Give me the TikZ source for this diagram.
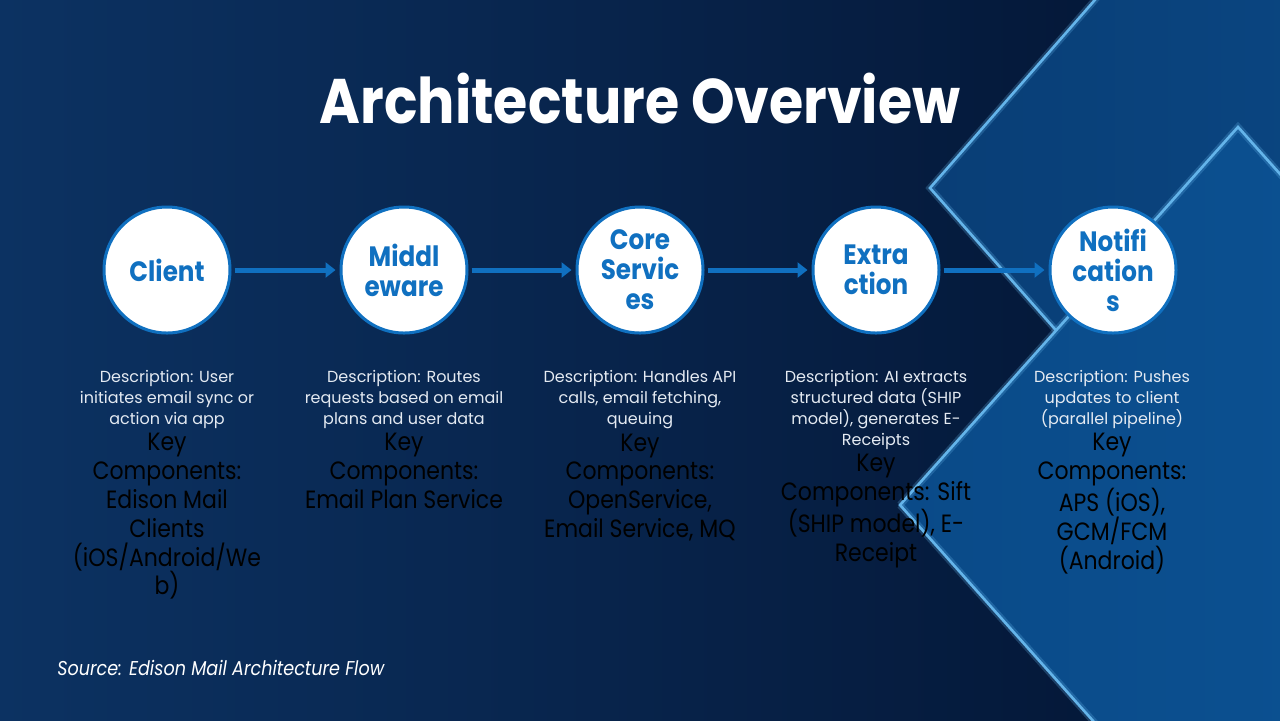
\documentclass[tikz,border=0pt]{standalone}
\usepackage{fontspec}
\setmainfont{Poppins}
\newfontfamily\narrowfont{Poppins}[FakeStretch=0.88]
\usetikzlibrary{positioning,arrows.meta}
\definecolor{bgleft}{RGB}{12,50,98}
\definecolor{bgmid}{RGB}{9,42,88}
\definecolor{bgright}{RGB}{3,20,50}
\definecolor{panelA}{RGB}{9,62,118}
\definecolor{panelB}{RGB}{11,76,138}
\definecolor{panelC}{RGB}{10,74,136}
\definecolor{panelD}{RGB}{12,84,150}
\definecolor{rimblue}{RGB}{100,180,234}
\definecolor{stageblue}{RGB}{16,112,192}
\definecolor{desctext}{RGB}{228,234,242}
\tikzset{
 stage/.style={circle,fill=white,draw=stageblue,line width=1.5pt,minimum size=63pt,inner sep=0pt,align=center,text=stageblue,font=\narrowfont\fontsize{14}{15}\selectfont\bfseries},
 desc/.style={align=center,text=desctext,inner sep=0pt,font=\fontsize{8}{10.5}\selectfont},
 keycomp/.style={align=center,text=black,inner sep=0pt,font=\narrowfont\fontsize{12.5}{14.4}\selectfont},
 flow/.style={draw=stageblue,line width=2.5pt,-{Triangle[length=5pt,width=7.5pt]},shorten <=1.5pt,shorten >=2pt},
 rim/.style={draw=rimblue,line width=1.3pt,line join=miter},
 rimglow/.style={draw=rimblue,line width=3.5pt,opacity=0.25}
}
\begin{document}
\begin{tikzpicture}[x=0.5pt,y=-0.5pt]
 \useasboundingbox (0,0) rectangle (1280,720);
 \clip (0,0) rectangle (1280,720);
 \shade[left color=bgleft,middle color=bgmid,right color=bgright] (0,0) rectangle (1280,720);
 \shade[left color=panelA,right color=panelB] (930,188)--(1300,-234)--(1670,188)--(1300,606)--cycle;
 \draw[rimglow] (1300,-234)--(930,188)--(1300,606);
 \draw[rim] (1300,-234)--(930,188)--(1300,606);
 \shade[left color=panelC,right color=panelD] (1238,127)--(900,505)--(1238,883)--(1576,505)--cycle;
 \draw[rimglow] (900,505)--(1238,127)--(1576,505);
 \draw[rimglow] (900,505)--(1238,883);
 \draw[rim] (1238,883)--(900,505)--(1238,127)--(1576,505);

 \node[text=white,font=\narrowfont\fontsize{31.5}{36}\selectfont\bfseries] (title) at (640,99) {Architecture Overview};

 \node[stage] (client) at (167,270) {Client};
 \node[stage] (middleware) at (404,270) {Middl\\eware};
 \node[stage] (core) at (640,270) {Core\\Servic\\es};
 \node[stage] (extraction) at (876,270) {Extra\\ction};
 \node[stage] (notif) at (1113,270) {Notifi\\cation\\s};

 \draw[flow] (client) -- (middleware);
 \draw[flow] (middleware) -- (core);
 \draw[flow] (core) -- (extraction);
 \draw[flow] (extraction) -- (notif);

 \node[desc,anchor=north] (clientdesc) at (167,370) {Description: User\\initiates email sync or\\action via app};
 \node[desc,anchor=north] (middlewaredesc) at (404,370) {Description: Routes\\requests based on email\\plans and user data};
 \node[desc,anchor=north] (coredesc) at (640,370) {Description: Handles API\\calls, email fetching,\\queuing};
 \node[desc,anchor=north] (extractiondesc) at (876,370) {Description: AI extracts\\structured data (SHIP\\model), generates E-\\Receipts};
 \node[desc,anchor=north] (notifdesc) at (1112,370) {Description: Pushes\\updates to client\\(parallel pipeline)};

 \node[keycomp,below=2pt of clientdesc] (clientkey) {Key\\Components:\\Edison Mail\\Clients\\(iOS/Android/We\\b)};
 \node[keycomp,below=2pt of middlewaredesc] (middlewarekey) {Key\\Components:\\Email Plan Service};
 \node[keycomp,below=2pt of coredesc] (corekey) {Key\\Components:\\OpenService,\\Email Service, MQ};
 \node[keycomp,below=2pt of extractiondesc] (extractionkey) {Key\\Components: Sift\\(SHIP model), E-\\Receipt};
 \node[keycomp,below=2pt of notifdesc] (notifkey) {Key\\Components:\\APS (iOS),\\GCM/FCM\\(Android)};

 \node[anchor=west,text=white,inner sep=0pt,font=\narrowfont\fontsize{10}{12}\selectfont\itshape] (source) at (57,668) {Source: Edison Mail Architecture Flow};
\end{tikzpicture}
\end{document}
